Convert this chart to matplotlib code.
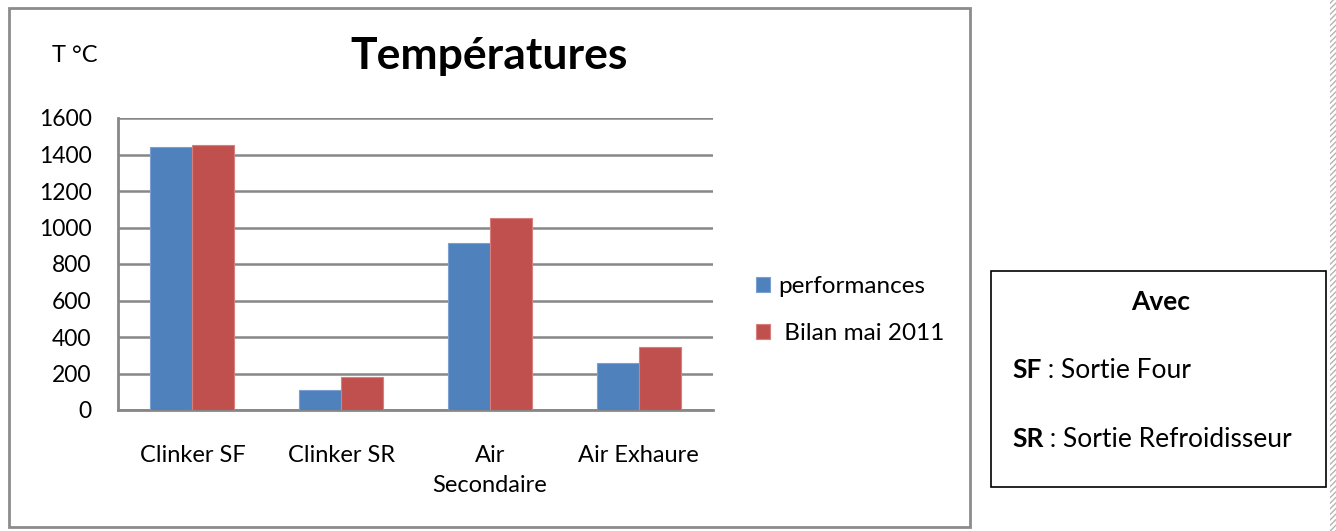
import numpy as np
import matplotlib.pyplot as plt
from matplotlib.patches import Rectangle

# Data
categories = ['Clinker SF', 'Clinker SR', 'Air\nSecondaire', 'Air Exhaure']
performances = [1440, 110, 917, 260]
bilan_mai_2011 = [1450, 180, 1050, 343]
series_labels = ['performances', ' Bilan mai 2011']
yticks = [0, 200, 400, 600, 800, 1000, 1200, 1400, 1600]

blue = '#4F81BD'
red = '#C0504D'
grid_col = '#878787'

plt.rcParams['font.family'] = ['Lato', 'DejaVu Sans']

W, H = 1336, 531
fig = plt.figure(figsize=(W / 100, H / 100), dpi=100)

def fx(px):
    return px / W

def fy(py):
    return 1 - py / H

# Outer chart frame
fig.patches.append(Rectangle((fx(9), fy(527)), fx(961), 519 / H, transform=fig.transFigure,
                             fill=False, edgecolor='#8c8c8c', linewidth=2))
# Note box
fig.patches.append(Rectangle((fx(991), fy(487)), fx(335), 216 / H, transform=fig.transFigure,
                             fill=False, edgecolor='black', linewidth=1.2))
# Hatched page edge on the right
fig.patches.append(Rectangle((fx(1330), 0), fx(6), 1, transform=fig.transFigure,
                             facecolor='white', edgecolor='#b5b5b5', hatch='//////', linewidth=0))

ax = fig.add_axes([fx(118), fy(410), fx(713 - 118), (410 - 118) / H])
x = np.arange(len(categories))
w = 0.283
ax.bar(x - w / 2, performances, w, color=blue, edgecolor='#7a9fd0', linewidth=0.8,
       label=series_labels[0], zorder=3)
ax.bar(x + w / 2, bilan_mai_2011, w, color=red, edgecolor='#d77f7c', linewidth=0.8,
       label=series_labels[1], zorder=3)

ax.set_xlim(-0.5, len(categories) - 0.5)
ax.set_ylim(0, 1600)
ax.set_yticks(yticks)
ax.set_yticklabels([str(v) for v in yticks], fontsize=16.5)
ax.set_xticks(x)
ax.set_xticklabels(categories, fontsize=17, linespacing=1.55)
ax.tick_params(axis='both', length=0, colors='black')
ax.tick_params(axis='y', pad=19)
ax.tick_params(axis='x', pad=25)
ax.yaxis.grid(True, color=grid_col, linewidth=1.8, zorder=0)
ax.set_axisbelow(True)
for s in ['top', 'right']:
    ax.spines[s].set_visible(False)
for s in ['left', 'bottom']:
    ax.spines[s].set_color(grid_col)
    ax.spines[s].set_linewidth(2)

ax.legend(loc='center left', bbox_to_anchor=(fx(744), fy(310)), bbox_transform=fig.transFigure,
          frameon=False, fontsize=17.5, handlelength=0.58, handleheight=0.58,
          handletextpad=0.33, labelspacing=1.05, borderpad=0)

# Titles and labels
fig.text(fx(489), fy(69), 'Températures', fontsize=32, fontweight='bold', ha='center', va='baseline')
fig.text(fx(52), fy(62), 'T °C', fontsize=17, ha='left', va='baseline')

# Note box text
fs_note = 19
fig.text(fx(1161), fy(310), 'Avec', fontsize=fs_note, fontweight='bold', ha='center', va='baseline')
renderer = fig.canvas.get_renderer()
for abbr, desc, base in [('SF', ' : Sortie Four', 378), ('SR', ' : Sortie Refroidisseur', 447)]:
    t = fig.text(fx(1012), fy(base), abbr, fontsize=fs_note, fontweight='bold', ha='left', va='baseline')
    x_end = t.get_window_extent(renderer).x1
    fig.text(x_end / W, fy(base), desc, fontsize=fs_note, ha='left', va='baseline')

fig.savefig('out.png', dpi=100)
